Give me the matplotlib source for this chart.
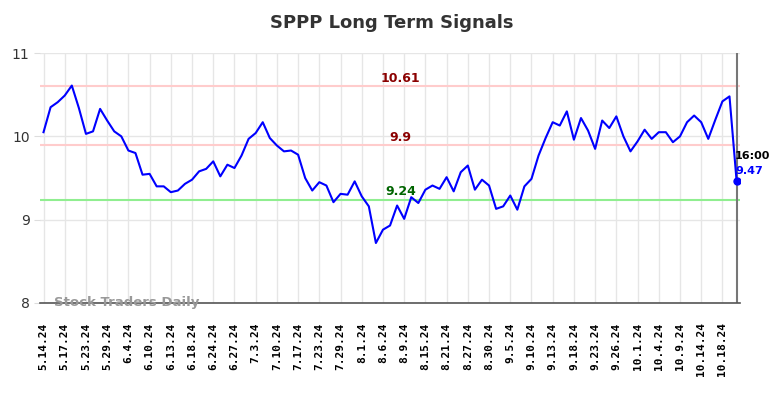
import matplotlib
matplotlib.use("Agg")
import matplotlib.pyplot as plt

# === Data ===
tick_labels = ["5.14.24", "5.17.24", "5.23.24", "5.29.24", "6.4.24", "6.10.24",
               "6.13.24", "6.18.24", "6.24.24", "6.27.24", "7.3.24", "7.10.24",
               "7.17.24", "7.23.24", "7.29.24", "8.1.24", "8.6.24", "8.9.24",
               "8.15.24", "8.21.24", "8.27.24", "8.30.24", "9.5.24", "9.10.24",
               "9.13.24", "9.18.24", "9.23.24", "9.26.24", "10.1.24", "10.4.24",
               "10.9.24", "10.14.24", "10.18.24"]
prices = [10.05, 10.35, 10.41, 10.49, 10.61, 10.34, 10.03, 10.06, 10.33, 10.19,
          10.06, 10.00, 9.83, 9.80, 9.54, 9.55, 9.40, 9.40, 9.33, 9.35,
          9.43, 9.48, 9.58, 9.61, 9.70, 9.52, 9.66, 9.62, 9.77, 9.97,
          10.04, 10.17, 9.98, 9.89, 9.82, 9.83, 9.78, 9.50, 9.35, 9.45,
          9.41, 9.21, 9.31, 9.30, 9.46, 9.28, 9.16, 8.72, 8.88, 8.93,
          9.17, 9.01, 9.27, 9.20, 9.36, 9.41, 9.37, 9.51, 9.34, 9.57,
          9.65, 9.36, 9.48, 9.41, 9.13, 9.16, 9.29, 9.12, 9.40, 9.49,
          9.77, 9.98, 10.17, 10.13, 10.30, 9.96, 10.22, 10.07, 9.85, 10.19,
          10.10, 10.24, 10.00, 9.82, 9.94, 10.08, 9.97, 10.05, 10.05, 9.93,
          10.00, 10.17, 10.25, 10.17, 9.97, 10.20, 10.42, 10.48, 9.47]
resistance_levels = [10.61, 9.9]
support_level = 9.24
last_time = "16:00"

# === Plot ===
fig = plt.figure(figsize=(7.84, 3.98), dpi=100)
ax = fig.add_axes([0.051, 0.2387, 0.893, 0.628])

x = list(range(len(prices)))
ax.plot(x, prices, color="blue", lw=1.5, zorder=3)
ax.plot(x[-1], prices[-1], "o", color="blue", ms=5, zorder=4)

label_x = 50.5
for lvl in resistance_levels:
    ax.axhline(lvl, color="#ffcccc", lw=1.5, zorder=2)
    ax.text(label_x, lvl + 0.01, str(lvl), color="#8b0000", fontsize=9,
            fontweight="bold", ha="center", va="bottom")
ax.axhline(support_level, color="#90ee90", lw=1.5, zorder=2)
ax.text(label_x, support_level + 0.02, str(support_level), color="#006400",
        fontsize=9, fontweight="bold", ha="center", va="bottom")

ax.axvline(x[-1], color="#777777", lw=1.5, zorder=2)
ax.text(x[-1] - 0.2, prices[-1] + 0.23, last_time, color="black", fontsize=8,
        fontweight="bold", ha="left", va="bottom")
ax.text(x[-1] - 0.2, prices[-1] + 0.06, f"{prices[-1]:.2f}", color="blue",
        fontsize=8, fontweight="bold", ha="left", va="bottom")

ax.text(1.5, 8.0, "Stock Traders Daily", color="#999999", fontsize=9.5,
        fontweight="bold", ha="left", va="center", zorder=5)

ax.set_xlim(-0.5, len(prices) - 0.5)
ax.set_ylim(8, 11)
ax.set_yticks([8, 9, 10, 11])
ax.set_xticks(range(0, 3 * len(tick_labels), 3))
ax.set_xticklabels(tick_labels, rotation=90, fontsize=8, fontweight="bold",
                   family="DejaVu Sans Mono")
ax.tick_params(axis="y", labelsize=10, colors="#333333", length=4, color="#dddddd")
ax.tick_params(axis="x", length=0, pad=14)
ax.grid(True, color="#e6e6e6", lw=1)
ax.set_axisbelow(True)
for side in ["top", "right", "left"]:
    ax.spines[side].set_visible(False)
ax.spines["bottom"].set_color("#555555")
ax.spines["bottom"].set_linewidth(1.2)

fig.suptitle("SPPP Long Term Signals", x=0.5, y=0.965, fontsize=13,
             fontweight="bold", color="#333333")

fig.savefig("out.png", dpi=100)
